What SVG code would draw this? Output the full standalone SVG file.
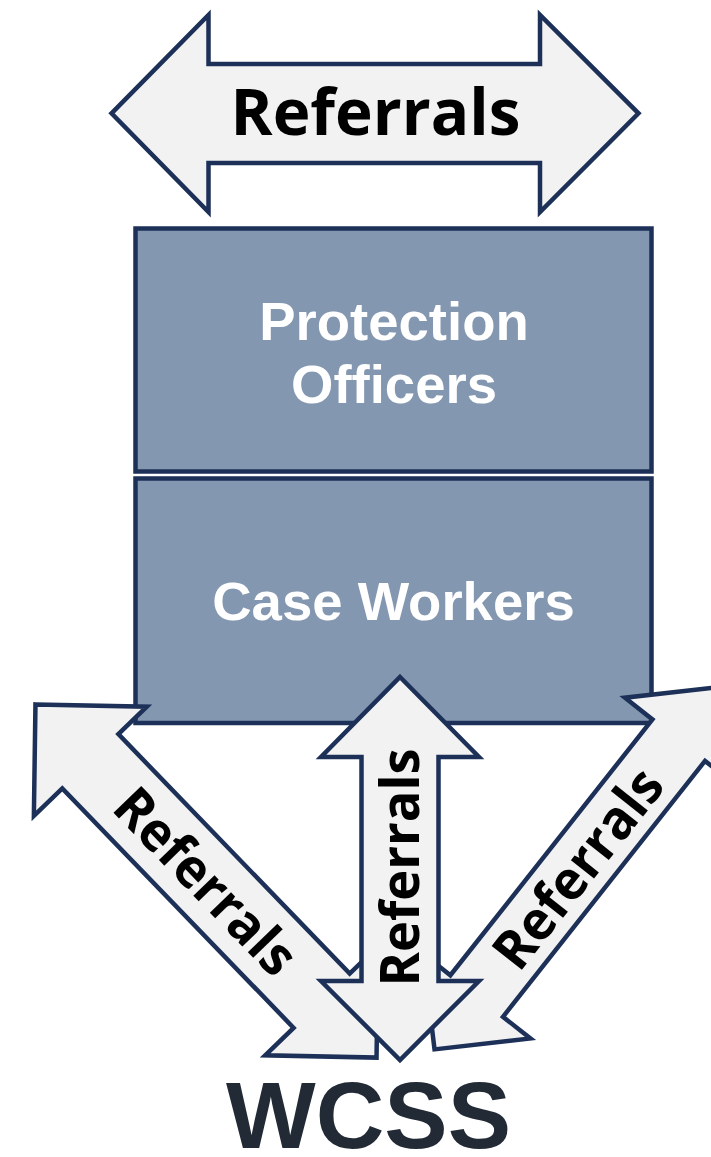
<svg xmlns="http://www.w3.org/2000/svg" width="711" height="1157" viewBox="0 0 711 1157">
<style>
.arrow{fill:#F2F2F2;stroke:#1C3058;stroke-width:4.5;stroke-linejoin:miter}
.box{fill:#8497B0;stroke:#1C3058;stroke-width:4.5}
.ref{font-family:"Open Sans","Liberation Sans",sans-serif;font-weight:700;fill:#000;text-anchor:middle}
.boxt{font-family:"Liberation Sans",Arial,sans-serif;font-weight:700;font-size:54.5px;fill:#FFFFFF;text-anchor:middle}
.wcss{font-family:"Liberation Sans",Arial,sans-serif;font-weight:700;font-size:95px;fill:#222A35;text-anchor:middle}
</style>
<rect width="711" height="1157" fill="#FFFFFF"/>
<g id="node-protection-officers">
<rect class="box" x="135.5" y="228.5" width="516" height="243"/>
<text class="boxt" x="394" y="339.5">Protection</text>
<text class="boxt" x="394" y="402.5">Officers</text>
</g>
<g id="node-case-workers">
<rect class="box" x="135.5" y="478.5" width="516" height="244.5"/>
<text class="boxt" x="393.5" y="620">Case Workers</text>
</g>
<g id="connectors">
<g id="arrow-top">
<polygon class="arrow" points="111.5,113.3 208.5,15 208.5,64 540,64 540,15 638.5,113.3 540,212 540,163 208.5,163 208.5,212"/>
<text class="ref" x="375.5" y="135" font-size="64" textLength="290" lengthAdjust="spacingAndGlyphs">Referrals</text>
</g>
<g id="arrow-left" transform="translate(206,881) rotate(46)">
<polygon class="arrow" points="-245.5,0 -166.5,-78.5 -166.5,-39 166.5,-39 166.5,-78.5 245.5,0 166.5,78.5 166.5,39 -166.5,39 -166.5,78.5"/>
<text class="ref" x="0" y="19.3" font-size="54" textLength="236" lengthAdjust="spacingAndGlyphs">Referrals</text>
</g>
<g id="arrow-right" transform="translate(577.7,868.1) rotate(-51.7)">
<polygon class="arrow" points="-231,0 -163,-68.5 -163,-33.5 163,-33.5 163,-68.5 231,0 163,68.5 163,33.5 -163,33.5 -163,68.5"/>
<text class="ref" x="0" y="19.3" font-size="54" textLength="238" lengthAdjust="spacingAndGlyphs">Referrals</text>
</g>
<g id="arrow-vertical">
<polygon class="arrow" points="400,677 479,757 438.5,757 438.5,981 479,981 400,1060 321,981 361.5,981 361.5,757 321,757"/>
<text class="ref" transform="translate(399.5,867.5) rotate(-90)" x="0" y="19.3" font-size="54" textLength="238" lengthAdjust="spacingAndGlyphs">Referrals</text>
</g>
</g>
<g id="node-wcss">
<text class="wcss" x="368.5" y="1148">WCSS</text>
</g>
</svg>
